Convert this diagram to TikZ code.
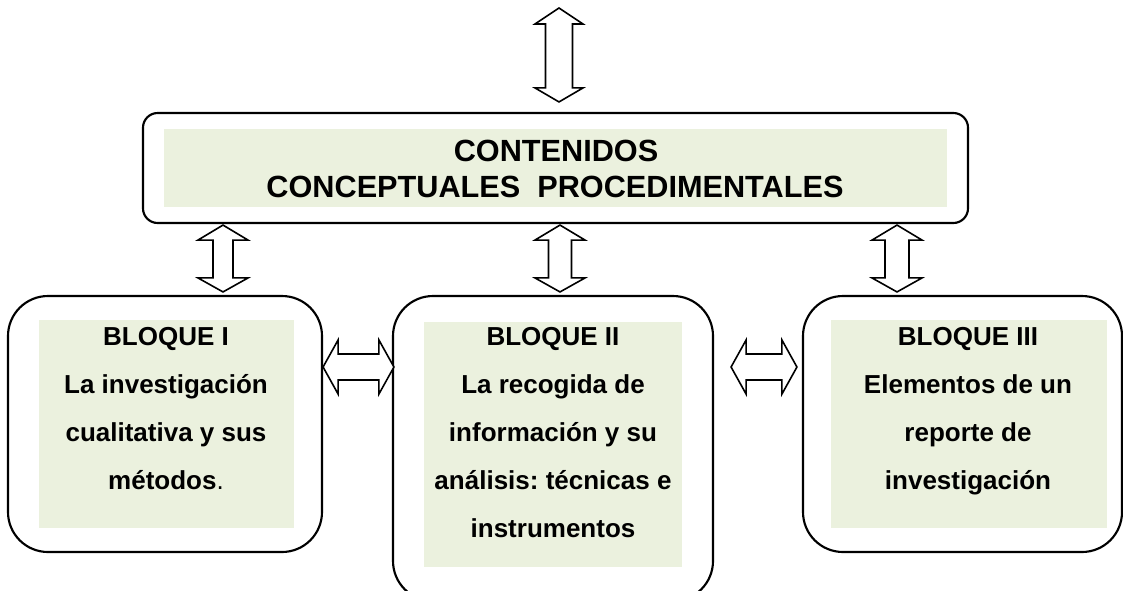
\documentclass[tikz,border=0pt]{standalone}
\usepackage{fontspec}
\setmainfont{Liberation Sans}
\usetikzlibrary{fit,calc}
\definecolor{pale}{RGB}{235,241,222}
\frenchspacing
\tikzset{
  box/.style={draw, line width=1.6pt, inner sep=0pt, rounded corners=30pt},
  topbox/.style={draw, line width=1.6pt, inner sep=0pt, rounded corners=11pt},
  greenbg/.style={fill=pale, inner sep=0pt},
  arr/.style={draw, fill=white, line width=1.2pt, line join=miter},
  bigtxt/.style={anchor=base, inner sep=0pt, font=\bfseries\fontsize{23}{27}\selectfont},
  smalltxt/.style={anchor=base, inner sep=0pt, font=\bfseries\fontsize{19.5}{23}\selectfont}
}
% vertical double block arrow: #1 x, #2 upper node, #3 lower node, #4 shaft half width
\newcommand\vdarrow[4]{%
  \coordinate (tmpx) at (#1,0);
  \draw[arr] ($(#2.south -| tmpx)+(0,1)$) -- ++(25,15) -- ++(-25+#4,0)
    -- ($(#3.north -| tmpx)+(#4,-17)$) -- ++(25-#4,0) -- ++(-25,14) -- ++(-25,-14) -- ++(25-#4,0)
    -- ($(#2.south -| tmpx)+(-#4,16)$) -- ++(-25+#4,0) -- cycle;
}
% horizontal double block arrow: #1 y, #2 left node, #3 right node, #4 left offset, #5 right offset
\newcommand\hdarrow[5]{%
  \coordinate (tmpy) at (0,#1);
  \draw[arr] ($(#2.east |- tmpy)+(#4,0)$) -- ++(15,-27) -- ++(0,14)
    -- ($(#3.west |- tmpy)+(#5-15,-13)$) -- ++(0,-14) -- ++(15,27) -- ++(-15,27) -- ++(0,-14)
    -- ($(#2.east |- tmpy)+(#4+15,13)$) -- ++(0,14) -- cycle;
}
\begin{document}
\begin{tikzpicture}[x=0.75pt,y=-0.75pt]
\useasboundingbox (0,0) rectangle (1123,590);

% top box
\node[topbox, fit={(143,113)(968,223)}] (top) {};
\node[greenbg, fit={(164,129)(947,207)}] (topg) {};
\node[bigtxt] (t1) at (556,161) {CONTENIDOS};
\node[bigtxt] (t2) at (555,197) {CONCEPTUALES\ \ PROCEDIMENTALES};

% bottom boxes
\node[box, fit={(8,296)(322,552)}] (b1) {};
\node[greenbg, fit={(39,320)(294,528)}] (b1g) {};
\node[box, fit={(393,296)(713,601)}] (b2) {};
\node[greenbg, fit={(424,322)(682,567)}] (b2g) {};
\node[box, fit={(803,296)(1122,552)}] (b3) {};
\node[greenbg, fit={(831,320)(1107,528)}] (b3g) {};

\node[smalltxt] (b1a) at (166,345) {BLOQUE I};
\node[smalltxt] (b1b) at (166,393) {La investigación};
\node[smalltxt] (b1c) at (166,441) {cualitativa y sus};
\node[smalltxt] (b1d) at (166,489) {métodos{\mdseries .}};

\node[smalltxt] (b2a) at (553,345) {BLOQUE II};
\node[smalltxt] (b2b) at (553,393) {La recogida de};
\node[smalltxt] (b2c) at (553,441) {información y su};
\node[smalltxt] (b2d) at (553,489) {análisis: técnicas e};
\node[smalltxt] (b2e) at (553,537) {instrumentos};

\node[smalltxt] (b3a) at (968,345) {BLOQUE III};
\node[smalltxt] (b3b) at (968,393) {Elementos de un};
\node[smalltxt] (b3c) at (968,441) {reporte de};
\node[smalltxt] (b3d) at (968,489) {investigación};

% top free arrow
\coordinate (topfree) at (559,8);
\draw[arr] (topfree) -- ++(24,16) -- ++(-10.5,0)
  -- ($(top.north -| topfree)+(13.5,-24)$) -- ++(10.5,0) -- ++(-24,14) -- ++(-24,-14) -- ++(10.5,0)
  -- ($(topfree)+(-13.5,16)$) -- ++(-10.5,0) -- cycle;

% vertical arrows
\vdarrow{223}{top}{b1}{10}
\vdarrow{560}{top}{b2}{11.5}
\vdarrow{897}{top}{b3}{12}

% horizontal arrows
\hdarrow{367}{b1}{b2}{0}{2}
\hdarrow{367}{b2}{b3}{17}{-5}
\end{tikzpicture}
\end{document}
